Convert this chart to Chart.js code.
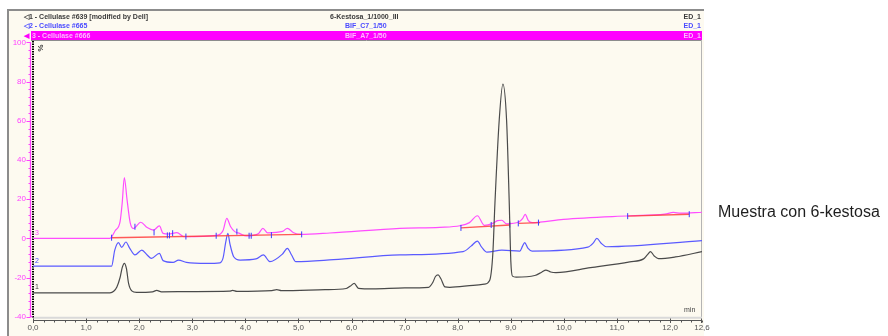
<!DOCTYPE html>
<html><head><meta charset="utf-8">
<script src="https://cdn.jsdelivr.net/npm/chart.js@4.4.1/dist/chart.umd.min.js"></script>
<style>
html,body{margin:0;padding:0;background:#fff;width:888px;height:336px;overflow:hidden;font-family:"Liberation Sans",Arial,sans-serif;}
#panel{position:absolute;left:7px;top:9px;width:697px;height:327px;background:#fdfaf0;border-left:2px solid #8c8c8c;border-top:2px solid #8c8c8c;box-sizing:border-box;z-index:0;}
#c{position:absolute;left:0;top:0;z-index:1;}
.h{position:absolute;font-size:7px;font-weight:bold;white-space:nowrap;line-height:8px;z-index:3;}
#bar{position:absolute;left:31px;top:31px;width:671px;height:9px;background:#ff00ff;z-index:2;}
#cap{position:absolute;left:718px;top:203px;font-size:16px;line-height:18px;color:#1e1e1e;z-index:3;white-space:nowrap;}
</style></head>
<body>
<div id="panel"></div>
<canvas id="c" width="888" height="336"></canvas>
<div class="h" style="left:24px;top:12.5px;color:#3a3a3a">◁1 - Cellulase #639 [modified by Dell]</div>
<div class="h" style="left:330px;top:12.5px;color:#3a3a3a">6-Kestosa_1/1000_III</div>
<div class="h" style="right:187px;top:12.5px;color:#3a3a3a">ED_1</div>
<div class="h" style="left:24px;top:22px;color:#4b4bff">◁2 - Cellulase #665</div>
<div class="h" style="left:345px;top:22px;color:#4b4bff">BIF_C7_1/50</div>
<div class="h" style="right:187px;top:22px;color:#4b4bff">ED_1</div>
<div id="bar"></div>
<div class="h" style="left:24px;top:31.5px;color:#ff00ff">◀</div>
<div class="h" style="left:32px;top:31.5px;color:#ffb8ff">3 - Cellulase #666</div>
<div class="h" style="left:345px;top:31.5px;color:#ffb8ff">BIF_A7_1/50</div>
<div class="h" style="right:187px;top:31.5px;color:#ffb8ff">ED_1</div>
<div class="h" style="left:36px;top:44px;color:#333;font-size:8px;transform:rotate(90deg);">%</div>
<div class="h" style="left:35px;top:229px;color:#ff40ff;font-weight:normal">3</div>
<div class="h" style="left:35px;top:257px;color:#4b4bff;font-weight:normal">2</div>
<div class="h" style="left:35px;top:283px;color:#444;font-weight:normal">1</div>
<div class="h" style="left:684px;top:306px;color:#444;font-weight:normal">min</div>
<div id="cap">Muestra con 6-kestosa</div>
<script>
// ---- data (time in min, signal in %) ----
const xTicks = [0,1,2,3,4,5,6,7,8,9,10,11,12,12.6];
const yTicks = [-40,-20,0,20,40,60,80,100];

const tBlack = [0,1.45,1.52,1.58,1.64,1.68,1.72,1.76,1.80,1.86,1.95,2.25,2.33,2.42,3.0,3.70,3.76,3.84,4.50,4.59,4.68,5.5,5.90,5.98,6.05,6.13,6.4,7.0,7.45,7.53,7.58,7.63,7.68,7.76,7.85,8.29,8.50,8.60,8.66,8.70,8.78,8.85,8.92,8.97,9.00,9.03,9.1,9.45,9.58,9.66,9.75,9.85,10.5,11.24,11.50,11.57,11.63,11.70,11.78,12.1,12.6];
const vBlack = [-27.8,-27.8,-27,-24.8,-20,-15,-12.8,-15.5,-23,-26.8,-27.6,-27.3,-26.6,-27.3,-27.2,-27,-26.6,-27.1,-26.7,-26.2,-26.7,-26.2,-25.6,-24.3,-23.0,-25.5,-25.8,-25.3,-25.0,-22.5,-19.5,-18.7,-20.5,-24.8,-25.0,-24.0,-23.4,-21.5,-8,17.8,60,78.7,60,17.8,-12,-19.3,-19.8,-19.0,-17.3,-16.2,-17.2,-17.5,-15.0,-12.0,-10.5,-8.5,-6.8,-9.0,-10.4,-9.5,-6.8];

const tBlue = [0,1.48,1.54,1.61,1.67,1.75,1.82,1.92,2.05,2.15,2.23,2.38,2.45,2.64,2.74,2.89,3.27,3.52,3.58,3.63,3.67,3.71,3.78,3.90,4.20,4.34,4.46,4.70,4.79,4.87,4.95,5.66,6.91,8.10,8.25,8.37,8.45,8.55,8.83,9.17,9.22,9.26,9.32,9.40,10.45,10.55,10.62,10.70,10.80,12.6];
const vBlue = [-14.2,-14.2,-6,-2.2,-4.6,-1.9,-5,-8.5,-6,-8.5,-10.2,-7.7,-11.4,-12.3,-11.1,-12.3,-12.8,-12.5,-10,-2,2.5,-3,-9.4,-11.1,-10.5,-8.5,-11.9,-8,-5.1,-8.5,-11.9,-10.9,-8.5,-6.8,-4,-1.4,-4.5,-7.1,-6.0,-6.5,-4,-2.2,-5,-6.5,-4.5,-2.5,0,-2.5,-4.3,-1.2];

const tMag = [0,1.45,1.55,1.64,1.68,1.72,1.77,1.83,1.89,2.03,2.15,2.27,2.38,2.45,2.55,2.71,2.85,3.46,3.58,3.65,3.72,3.80,3.89,4.02,4.25,4.33,4.42,4.70,4.79,4.90,5.03,5.59,6.91,7.66,8.04,8.22,8.37,8.50,8.65,8.75,8.83,8.92,9.15,9.22,9.27,9.33,9.40,9.99,11.24,11.9,12.06,12.2,12.6];
const vMag = [0,0,4,8.5,18,31,20,8,5,8.2,5.5,4.2,6.3,2.5,2.2,2.9,0.8,1.5,4,10.2,6,3.4,2.5,1.2,2.5,5.1,2.8,3.5,5.1,3,2,2.7,5.1,5.6,6.4,8,11.5,6.6,7.5,9.0,9.2,7.4,8.3,10,12.2,9.0,8.0,9.7,11.5,12.3,13.2,12.8,13.3];

// integration baselines (start/end) and peak delimiter marks on trace 3
const baseT0 = [1.48,8.06,9.14,11.2];
const baseV0 = [0.3,5.3,7.6,11.3];
const baseT1 = [5.06,8.98,9.55,12.36];
const baseV1 = [2.0,6.8,8.0,12.3];
const markT = [1.48,1.92,2.28,2.53,2.57,2.63,2.88,3.45,3.84,4.07,4.11,4.49,5.06,8.06,8.63,8.98,9.14,9.52,11.2,12.36];
const markV = [0.3,5.9,3.0,1.5,1.5,2.6,0.9,1.3,3.4,1.3,1.3,1.6,2.0,5.3,6.8,7.0,7.6,8.0,11.3,12.3];

const pts = (t,v) => t.map((x,i)=>({x, y:v[i]}));
const basePts = [];
baseT0.forEach((t,i)=>{ basePts.push({x:t,y:baseV0[i]},{x:baseT1[i],y:baseV1[i]},{x:baseT1[i],y:null}); });

const deco = {
  id:'deco',
  beforeDatasetsDraw(chart){
    const {ctx, chartArea:a, scales:{x,y}} = chart;
    ctx.save();
    // header separator
    ctx.strokeStyle='#8c8c8c'; ctx.lineWidth=1;
    ctx.beginPath(); ctx.moveTo(31,40.5); ctx.lineTo(702,40.5); ctx.stroke();
    // right and bottom plot border
    ctx.strokeStyle='#b4b4b4';
    ctx.beginPath(); ctx.moveTo(701.5,40); ctx.lineTo(701.5,a.bottom+1); ctx.stroke();
    ctx.strokeStyle='#d9d9d9'; ctx.lineWidth=2;
    ctx.beginPath(); ctx.moveTo(a.left,a.bottom+1); ctx.lineTo(702,a.bottom+1); ctx.stroke();
    // dotted black y line
    ctx.strokeStyle='#000'; ctx.lineWidth=2; ctx.setLineDash([1.5,1]);
    ctx.beginPath(); ctx.moveTo(a.left,41); ctx.lineTo(a.left,a.bottom+1); ctx.stroke();
    ctx.setLineDash([]);
    // magenta y axis
    ctx.strokeStyle='#ff40ff'; ctx.lineWidth=1.3;
    ctx.beginPath(); ctx.moveTo(30.5,y.getPixelForValue(100)); ctx.lineTo(30.5,y.getPixelForValue(-40)); ctx.lineTo(32.5,y.getPixelForValue(-40)); ctx.stroke();
    ctx.lineWidth=1;
    for(let v=-40; v<=100; v+=4){
      const p=Math.round(y.getPixelForValue(v))+0.5;
      const major = v%20===0;
      ctx.beginPath(); ctx.moveTo(major?26.5:28.5,p); ctx.lineTo(30.5,p); ctx.stroke();
    }
    // x axis
    const ay=320.5;
    ctx.strokeStyle='#555';
    ctx.beginPath(); ctx.moveTo(x.left,ay); ctx.lineTo(x.right,ay); ctx.stroke();
    for(let v=0; v<=12.6001; v+=0.2){
      const p=Math.round(x.getPixelForValue(v))+0.5;
      const major = Math.abs(v-Math.round(v))<1e-6;
      ctx.beginPath(); ctx.moveTo(p,major?318.5:320.5); ctx.lineTo(p,major?323:322.5); ctx.stroke();
    }
    const pe=Math.round(x.getPixelForValue(12.6))-0.5;
    ctx.beginPath(); ctx.moveTo(pe,318.5); ctx.lineTo(pe,323); ctx.stroke();
    ctx.restore();
  }
};

new Chart(document.getElementById('c'), {
  type:'line',
  data:{datasets:[
    {label:'1 - Cellulase #639', data:pts(tBlack,vBlack), borderColor:'#4a4a4a', borderWidth:1.2, pointRadius:0, cubicInterpolationMode:'monotone'},
    {label:'marks', data:pts(markT,markV), showLine:false, pointStyle:'line', rotation:90, pointRadius:3,
     borderColor:'#3b3bff', pointBorderColor:'#3b3bff', pointBackgroundColor:'#3b3bff', pointBorderWidth:1, borderWidth:1},
    {label:'baseline', data:basePts, borderColor:'rgba(255,60,60,0.85)', borderWidth:1.4, pointRadius:0, spanGaps:false},
    {label:'2 - Cellulase #665', data:pts(tBlue,vBlue), borderColor:'#5a5aff', borderWidth:1.2, pointRadius:0, cubicInterpolationMode:'monotone'},
    {label:'3 - Cellulase #666', data:pts(tMag,vMag), borderColor:'#ff4dff', borderWidth:1.2, pointRadius:0, cubicInterpolationMode:'monotone'}
  ]},
  options:{
    responsive:false, animation:false, devicePixelRatio:1,
    layout:{padding:{left:0,top:42.3,right:186,bottom:0}},
    plugins:{legend:{display:false}, tooltip:{enabled:false}},
    scales:{
      x:{type:'linear', min:0, max:12.6, position:'bottom',
         grid:{display:false, drawTicks:false}, border:{display:false},
         afterBuildTicks:s=>{ s.ticks = xTicks.map(v=>({value:v})); },
         afterFit:s=>{ s.height = 19.3; },
         ticks:{autoSkip:false, maxRotation:0, padding:6.5, color:'#555', font:{family:'Liberation Sans', size:8},
                callback:v=>Number(v).toFixed(1).replace('.',',')}},
      y:{type:'linear', min:-40, max:100, position:'left',
         grid:{display:false, drawTicks:false}, border:{display:false},
         afterBuildTicks:s=>{ s.ticks = yTicks.map(v=>({value:v})); },
         afterFit:s=>{ s.width = 33; },
         ticks:{padding:7, color:'#ff40ff', font:{family:'Liberation Sans', size:8}}}
    }
  },
  plugins:[deco]
});
</script>
</body></html>
